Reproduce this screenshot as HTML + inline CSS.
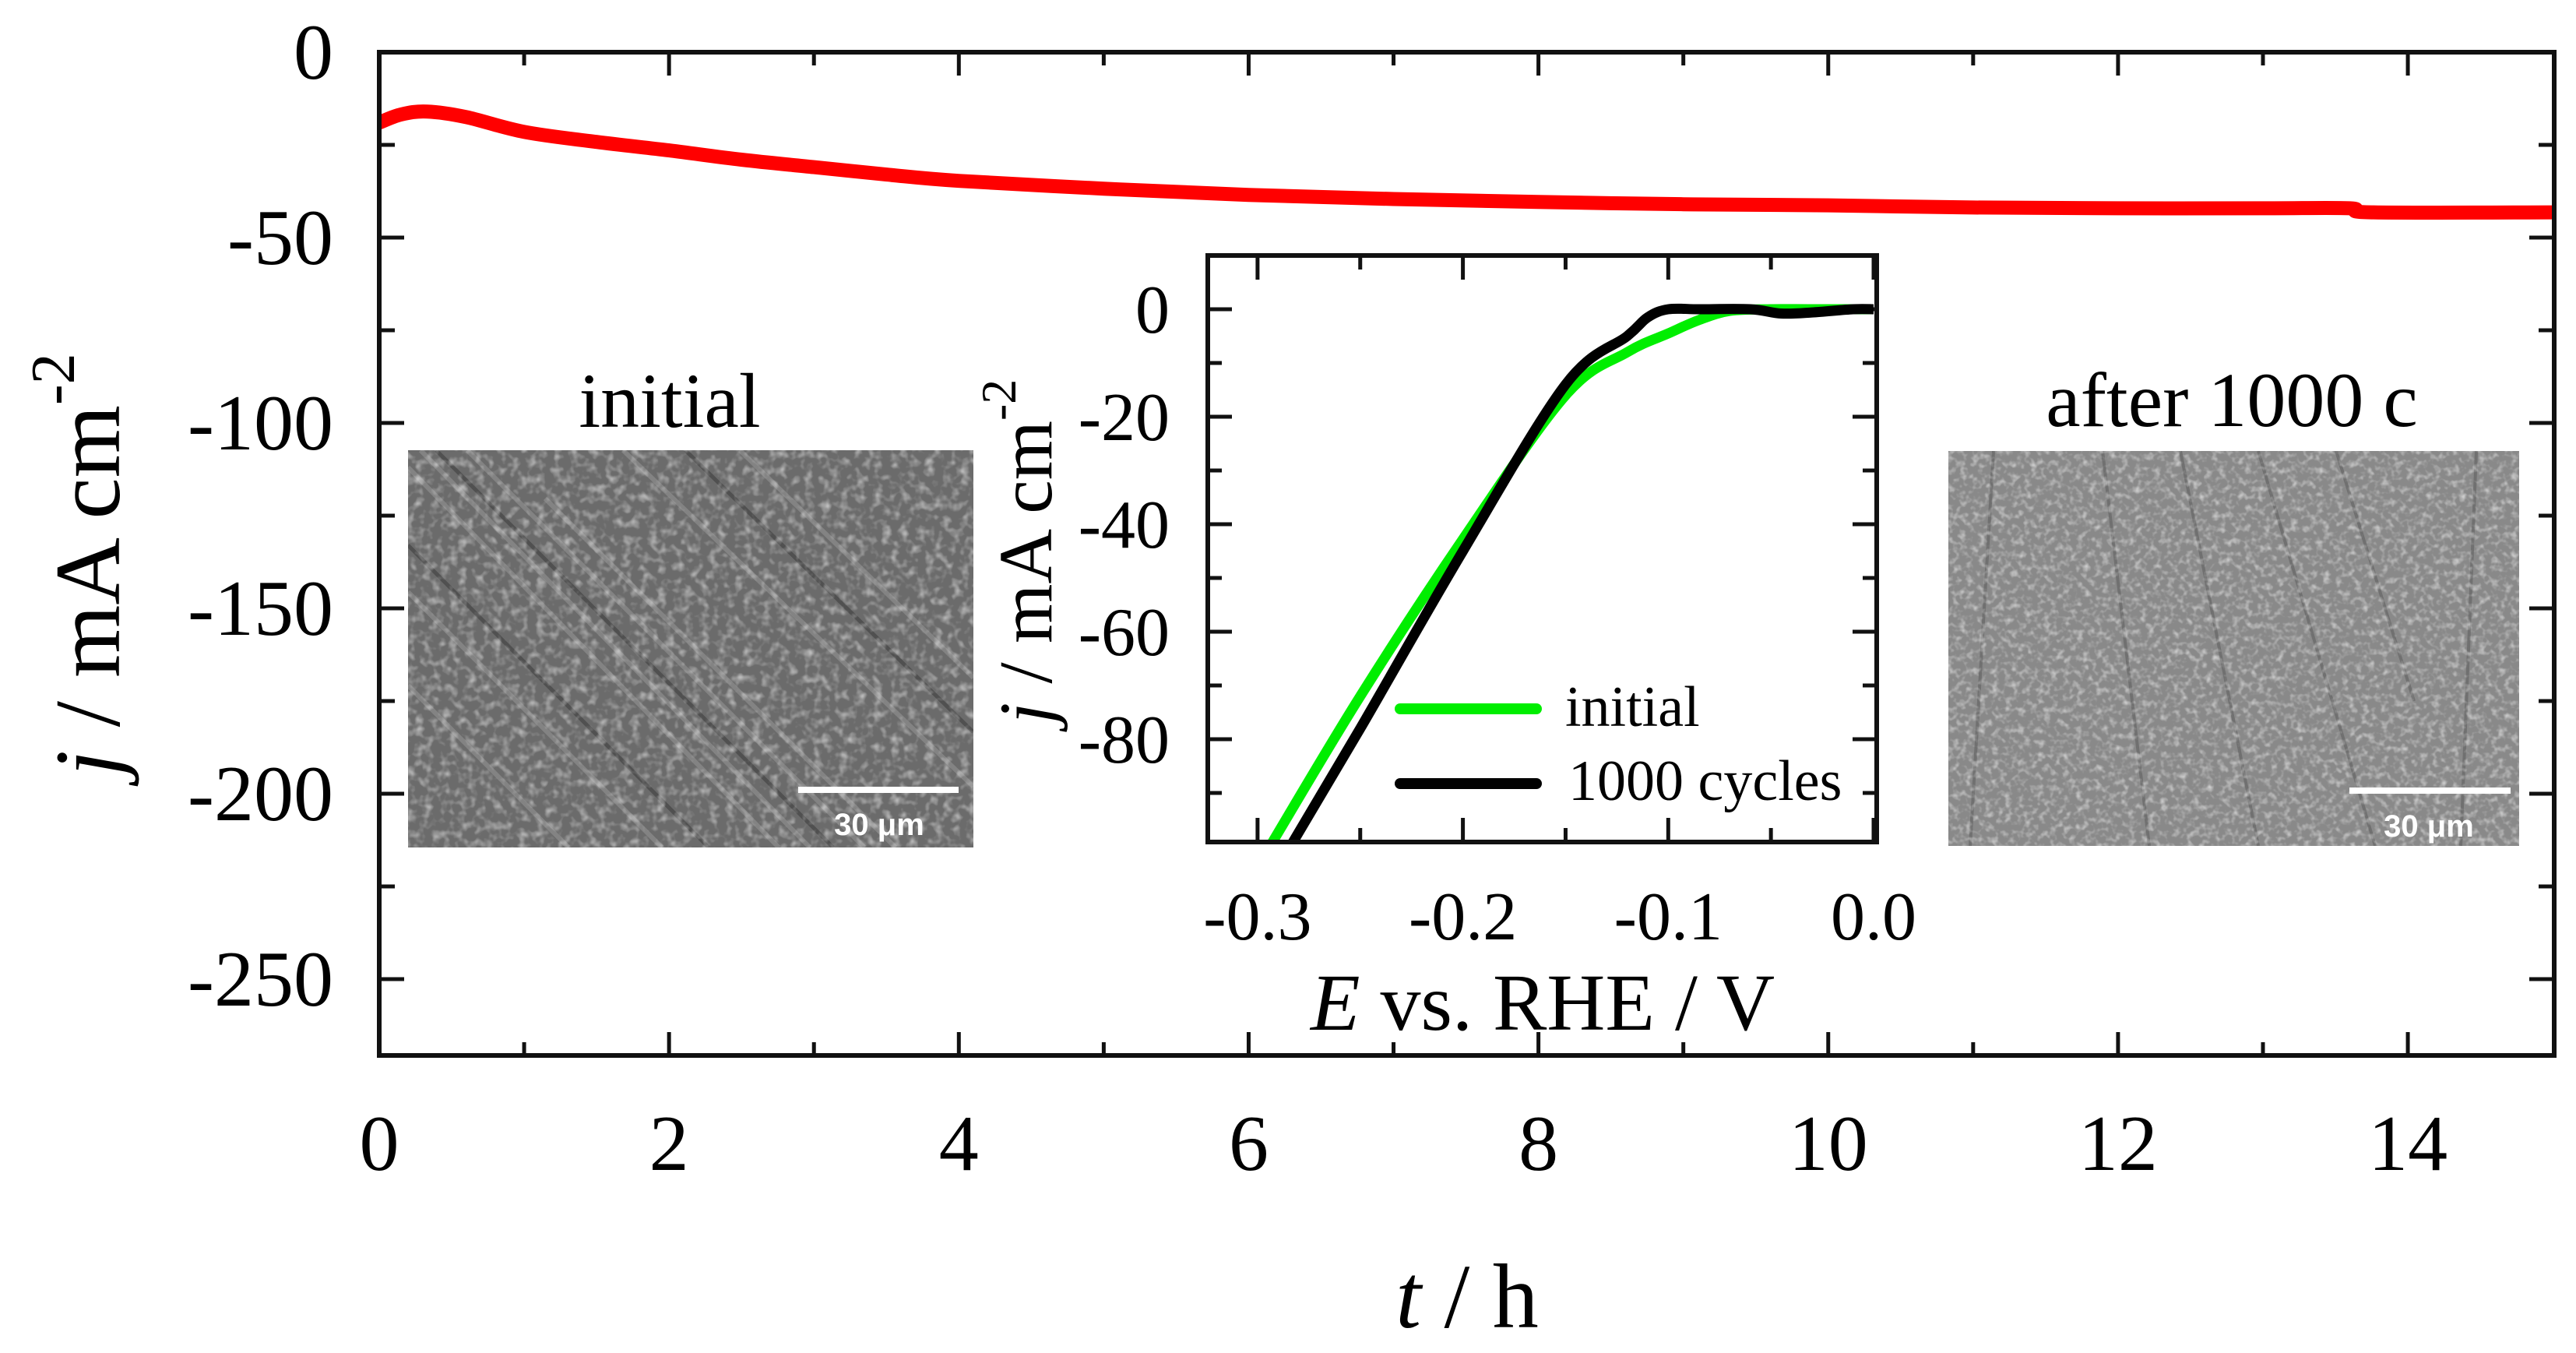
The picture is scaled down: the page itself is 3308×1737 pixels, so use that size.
<!DOCTYPE html>
<html><head><meta charset="utf-8"><title>Chronoamperometry with LSV inset</title>
<style>html,body{margin:0;padding:0;background:#fff;}svg{display:block;}</style></head>
<body>
<svg id="chart" xmlns="http://www.w3.org/2000/svg" width="3308" height="1737" viewBox="0 0 3308 1737" font-family="'Liberation Serif', serif">
<defs>
<filter id="noiseA" x="0" y="0" width="100%" height="100%">
<feTurbulence type="fractalNoise" baseFrequency="0.09" numOctaves="2" seed="3"/>
<feColorMatrix type="matrix" values="0 0 0 0 1  0 0 0 0 1  0 0 0 0 1  1.2 0 0 0 -0.55"/>
</filter>
<filter id="noiseB" x="0" y="0" width="100%" height="100%">
<feTurbulence type="fractalNoise" baseFrequency="0.12" numOctaves="2" seed="7"/>
<feColorMatrix type="matrix" values="0 0 0 0 1  0 0 0 0 1  0 0 0 0 1  1.3 0 0 0 -0.6"/>
</filter>
<clipPath id="clipA"><rect x="524" y="578" width="726" height="510"/></clipPath>
<clipPath id="clipB"><rect x="2502" y="579" width="733" height="507"/></clipPath>
<clipPath id="clipInset"><rect x="1551" y="328" width="859" height="753"/></clipPath>
</defs>
<g id="main"></g>
<g id="sem-initial" clip-path="url(#clipA)">
<rect x="524" y="578" width="726" height="510" fill="#6b6b6b"/>
<g stroke="#8a8a8a" stroke-width="6" opacity="0.8">
<line x1="524" y1="600" x2="1000" y2="1088"/><line x1="540" y1="578" x2="1040" y2="1088"/>
<line x1="600" y1="578" x2="1110" y2="1088"/><line x1="700" y1="640" x2="1150" y2="1088"/>
<line x1="524" y1="760" x2="850" y2="1088"/><line x1="524" y1="880" x2="730" y2="1088"/>
<line x1="800" y1="578" x2="1250" y2="1010"/><line x1="950" y1="578" x2="1250" y2="870"/>
</g>
<g stroke="#454545" stroke-width="5" opacity="0.7">
<line x1="560" y1="578" x2="1070" y2="1088"/><line x1="524" y1="700" x2="910" y2="1088"/>
<line x1="880" y1="578" x2="1250" y2="940"/>
</g>
<rect x="524" y="578" width="726" height="510" filter="url(#noiseA)"/>
<line x1="1025" y1="1014" x2="1231" y2="1014" stroke="#fff" stroke-width="8"/>
<text x="1129" y="1072" font-family="'Liberation Sans', sans-serif" font-weight="bold" font-size="40" fill="#fff" text-anchor="middle">30 μm</text>
</g>
<g id="sem-after" clip-path="url(#clipB)">
<rect x="2502" y="579" width="733" height="507" fill="#898989"/>
<g stroke="#666" stroke-width="4" opacity="0.7">
<line x1="2560" y1="579" x2="2530" y2="1086"/><line x1="2700" y1="579" x2="2760" y2="1086"/>
<line x1="2800" y1="579" x2="2900" y2="1086"/><line x1="2900" y1="579" x2="3050" y2="1086"/>
<line x1="3000" y1="579" x2="3100" y2="900"/><line x1="3180" y1="579" x2="3160" y2="1086"/>
</g>
<rect x="2502" y="579" width="733" height="507" filter="url(#noiseB)"/>
<line x1="3017" y1="1015" x2="3224" y2="1015" stroke="#fff" stroke-width="8"/>
<text x="3119" y="1074" font-family="'Liberation Sans', sans-serif" font-weight="bold" font-size="40" fill="#fff" text-anchor="middle">30 μm</text>
</g>
<text x="860" y="548" font-size="100" text-anchor="middle">initial</text>
<text x="2866" y="547" font-size="100" text-anchor="middle">after 1000 c</text>
<g id="inset"></g>
</svg>
<script>
// ---- main chart data ----
const timeH = [0, 0.15, 0.33, 0.6, 1, 1.5, 2, 2.5, 3, 3.5, 4, 5, 6, 7, 8, 9, 10, 11, 12, 13, 13.6, 13.75, 15];
const currentJ = [-19, -16.8, -16, -17.5, -21.5, -24.2, -26.5, -29, -31, -33, -34.7, -36.8, -38.5, -39.6, -40.4, -41, -41.3, -41.9, -42.1, -42.1, -42.1, -43.2, -43.2];
const mainXTicks = [0, 2, 4, 6, 8, 10, 12, 14];
const mainYTicks = [0, -50, -100, -150, -200, -250];
// ---- inset data ----
const eInitial = [-0.293, -0.25, -0.2, -0.15, -0.12, -0.1, -0.085, -0.07, -0.05, -0.03, 0.0];
const jInitial = [-99.3, -72, -42.8, -16, -8, -4.5, -2, -0.3, 0, 0, 0];
const eCycles = [-0.283, -0.25, -0.2, -0.15, -0.12, -0.11, -0.1, -0.085, -0.06, -0.045, -0.03, -0.01, 0.0];
const jCycles = [-99.3, -78, -45, -14, -5, -1.5, 0, 0, 0, -0.8, -0.6, 0, 0];
const insetXTicks = [-0.3, -0.2, -0.1, 0.0];
const insetYTicks = [0, -20, -40, -60, -80];

const NS = 'http://www.w3.org/2000/svg';
function mk(parent, tag, attrs) {
  const e = document.createElementNS(NS, tag);
  for (const k in attrs) e.setAttribute(k, attrs[k]);
  parent.appendChild(e);
  return e;
}
function smoothPath(pts) {
  let p = 'M' + pts[0][0].toFixed(1) + ' ' + pts[0][1].toFixed(1);
  for (let i = 0; i < pts.length - 1; i++) {
    const p0 = pts[Math.max(0, i - 1)], p1 = pts[i], p2 = pts[i + 1], p3 = pts[Math.min(pts.length - 1, i + 2)];
    const c1x = p1[0] + (p2[0] - p0[0]) / 6, c1y = p1[1] + (p2[1] - p0[1]) / 6;
    const c2x = p2[0] - (p3[0] - p1[0]) / 6, c2y = p2[1] - (p3[1] - p1[1]) / 6;
    p += 'C' + c1x.toFixed(1) + ' ' + c1y.toFixed(1) + ' ' + c2x.toFixed(1) + ' ' + c2y.toFixed(1) + ' ' + p2[0].toFixed(1) + ' ' + p2[1].toFixed(1);
  }
  return p;
}
// main axes
const M = {l: 487, r: 3280, t: 67, b: 1355, x0: 0, x1: 15.01, y0: 0, y1: -270.6};
const mx = v => M.l + (v - M.x0) / (M.x1 - M.x0) * (M.r - M.l);
const my = v => M.t + (v - M.y0) / (M.y1 - M.y0) * (M.b - M.t);
const main = document.getElementById('main');

for (let t = 1; t < 15; t++) {
  const major = t % 2 === 0, L = major ? 30 : 17;
  const a = mk(main, 'line', {x1: mx(t), x2: mx(t), y1: M.b, y2: M.b - L, stroke: '#111', 'stroke-width': 5});
  
  
  const b = mk(main, 'line', {x1: mx(t), x2: mx(t), y1: M.t, y2: M.t + L, stroke: '#111', 'stroke-width': 5});
  
  
}
for (let v = -25; v > -270; v -= 25) {
  const major = v % 50 === 0, L = major ? 32 : 20;
  const a = mk(main, 'line', {x1: M.l, x2: M.l + L, y1: my(v), y2: my(v), stroke: '#111', 'stroke-width': 5});
  
  
  const b = mk(main, 'line', {x1: M.r, x2: M.r - L, y1: my(v), y2: my(v), stroke: '#111', 'stroke-width': 5});
  
  
}
mainXTicks.forEach(v => {
  const t = mk(main, 'text', {x: mx(v), y: 1502, 'font-size': 102, 'text-anchor': 'middle'});
  t.textContent = String(v);
  
  
});
mainYTicks.forEach(v => {
  const t = mk(main, 'text', {x: 428, y: my(v) + 34, 'font-size': 102, 'text-anchor': 'end'});
  t.textContent = String(v);
  
  
});
const redPts = timeH.map((t, i) => [mx(t), my(currentJ[i])]);
const redLine = mk(main, 'path', {d: smoothPath(redPts), fill: 'none', stroke: '#ff0000', 'stroke-width': 18, 'stroke-linejoin': 'round'});


const frame = mk(main, 'rect', {x: M.l, y: M.t, width: M.r - M.l, height: M.b - M.t, fill: 'none', stroke: '#111', 'stroke-width': 6});


const xt = mk(main, 'text', {x: 1884, y: 1704, 'font-size': 118, 'text-anchor': 'middle'});
xt.innerHTML = '<tspan font-style="italic">t</tspan> / h';


const yt = mk(main, 'text', {transform: 'translate(153,725) rotate(-90)', 'font-size': 120, 'text-anchor': 'middle'});
yt.innerHTML = '<tspan font-style="italic">j</tspan> / mA cm<tspan dy="-58" font-size="80">-2</tspan>';



// inset axes
const I = {l: 1551, r: 2410, t: 328, b: 1081};
const ix = v => 2406 + v / 0.1 * 263.7;
const iy = v => 397 + v / -20 * 138;
const inset = document.getElementById('inset');
mk(inset, 'rect', {x: I.l, y: I.t, width: I.r - I.l, height: I.b - I.t, fill: '#fff'});
for (let k = -6; k <= 0; k++) {
  const v = k * 0.05, major = k % 2 === 0, L = major ? 31 : 18;
  const a = mk(inset, 'line', {x1: ix(v), x2: ix(v), y1: I.b, y2: I.b - L, stroke: '#111', 'stroke-width': 5});
  
  
  const b = mk(inset, 'line', {x1: ix(v), x2: ix(v), y1: I.t, y2: I.t + L, stroke: '#111', 'stroke-width': 5});
  
  
}
for (let v = 0; v >= -90; v -= 10) {
  const major = v % 20 === 0, L = major ? 31 : 18;
  const a = mk(inset, 'line', {x1: I.l, x2: I.l + L, y1: iy(v), y2: iy(v), stroke: '#111', 'stroke-width': 5});
  
  
  const b = mk(inset, 'line', {x1: I.r, x2: I.r - L, y1: iy(v), y2: iy(v), stroke: '#111', 'stroke-width': 5});
  
  
}
insetXTicks.forEach(v => {
  const t = mk(inset, 'text', {x: ix(v), y: 1206, 'font-size': 88, 'text-anchor': 'middle'});
  t.textContent = v.toFixed(1);
  
  
});
insetYTicks.forEach(v => {
  const t = mk(inset, 'text', {x: 1502, y: iy(v) + 30, 'font-size': 88, 'text-anchor': 'end'});
  t.textContent = String(v);
  
  
});
const clipG = mk(inset, 'g', {'clip-path': 'url(#clipInset)'});
function series(xs, ys, color, name) {
  const pts = xs.map((x, i) => [ix(x), iy(ys[i])]);
  const e = mk(clipG, 'path', {d: smoothPath(pts), fill: 'none', stroke: color, 'stroke-width': 13, 'stroke-linejoin': 'round'});
  
  
}
series(eInitial, jInitial, '#00ee00', 'initial-series');
series(eCycles, jCycles, '#000000', 'cycles-1000-series');
const iframe = mk(inset, 'rect', {x: I.l, y: I.t, width: I.r - I.l, height: I.b - I.t, fill: 'none', stroke: '#111', 'stroke-width': 6});


// legend
const lg = mk(inset, 'g', {});


const l1 = mk(lg, 'line', {x1: 1798, x2: 1973, y1: 910, y2: 910, stroke: '#00ee00', 'stroke-width': 14, 'stroke-linecap': 'round'});


const t1 = mk(lg, 'text', {x: 2010, y: 932, 'font-size': 74});
t1.textContent = 'initial';


const l2 = mk(lg, 'line', {x1: 1798, x2: 1973, y1: 1006, y2: 1006, stroke: '#000', 'stroke-width': 14, 'stroke-linecap': 'round'});


const t2 = mk(lg, 'text', {x: 2014, y: 1027, 'font-size': 74});
t2.textContent = '1000 cycles';


const ixt = mk(inset, 'text', {x: 1981, y: 1322, 'font-size': 104, 'text-anchor': 'middle'});
ixt.innerHTML = '<tspan font-style="italic">E</tspan> vs. RHE / V';


const iyt = mk(inset, 'text', {transform: 'translate(1350,708) rotate(-90)', 'font-size': 98, 'text-anchor': 'middle'});
iyt.innerHTML = '<tspan font-style="italic">j</tspan> / mA cm<tspan dy="-46" font-size="64">-2</tspan>';


</script>
</body></html>
